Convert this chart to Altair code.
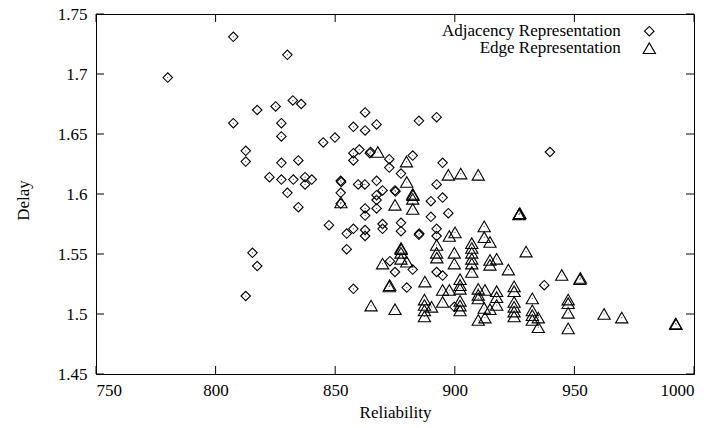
import altair as alt
import pandas as pd

# ---- data ----
adj_rel = [780.0, 807.4, 830.0, 817.4, 825.1, 832.3, 835.8, 807.4, 827.5, 827.5,
           812.6, 812.6, 827.5, 834.6, 822.5, 827.5, 832.5, 830.0, 834.6, 837.4,
           840.2, 837.4, 862.5, 857.6, 862.5, 867.3, 845.0, 849.9, 857.6, 860.1,
           857.6, 864.5, 864.8, 872.6, 872.6, 885.0, 892.4, 882.4, 894.9, 877.5,
           892.4, 852.3, 852.5, 852.3, 852.3, 859.6, 862.4, 867.3, 869.8, 867.3,
           867.3, 867.3, 875.0, 875.2, 862.5, 862.5, 890.0, 894.9, 890.0, 897.3,
           847.4, 854.8, 857.6, 862.5, 862.5, 869.8, 869.8, 877.5, 877.5, 885.1,
           885.0, 892.4, 892.4, 854.8, 815.4, 817.4, 812.6, 872.9, 875.0, 882.4,
           892.4, 894.9, 857.6, 879.9, 899.8, 937.4, 939.8]
adj_delay = [1.697, 1.731, 1.716, 1.670, 1.673, 1.678, 1.675, 1.659, 1.659, 1.648,
             1.636, 1.627, 1.626, 1.628, 1.614, 1.612, 1.612, 1.601, 1.589, 1.614,
             1.612, 1.608, 1.668, 1.656, 1.653, 1.658, 1.643, 1.647, 1.634, 1.637,
             1.628, 1.634, 1.635, 1.629, 1.622, 1.661, 1.664, 1.632, 1.626, 1.617,
             1.608, 1.611, 1.610, 1.601, 1.592, 1.608, 1.608, 1.611, 1.603, 1.599,
             1.595, 1.588, 1.603, 1.602, 1.588, 1.582, 1.594, 1.597, 1.581, 1.584,
             1.574, 1.567, 1.571, 1.570, 1.565, 1.575, 1.571, 1.576, 1.569, 1.567,
             1.566, 1.571, 1.565, 1.554, 1.551, 1.540, 1.515, 1.544, 1.535, 1.537,
             1.535, 1.532, 1.521, 1.522, 1.506, 1.524, 1.635]

edge_rel = [867.8, 879.8, 897.3, 902.5, 909.8, 879.9, 852.4, 882.4, 882.5, 882.4,
            875.0, 882.4, 926.8, 927.2, 927.0, 877.5, 877.6, 877.5, 877.5, 892.4,
            892.4, 892.5, 897.7, 900.1, 912.3, 912.3, 914.7, 899.8, 899.8, 907.1,
            907.1, 907.1, 907.1, 907.1, 907.1, 914.7, 917.5, 914.7, 922.4, 929.8,
            869.8, 887.5, 872.6, 872.8, 894.9, 897.7, 902.2, 902.2, 902.2, 909.8,
            909.8, 909.8, 912.6, 917.5, 917.5, 924.8, 924.8, 924.8, 924.8, 924.8,
            924.8, 865.0, 875.0, 887.3, 887.3, 887.3, 887.3, 890.3, 894.9, 902.2,
            902.2, 902.2, 909.8, 912.6, 912.3, 914.7, 917.5, 944.7, 952.3, 952.5,
            932.4, 932.4, 932.4, 932.4, 934.9, 934.9, 947.4, 947.4, 947.4, 947.4,
            962.4, 969.8, 992.3, 992.5, 879.9]
edge_delay = [1.635, 1.627, 1.616, 1.617, 1.616, 1.610, 1.593, 1.600, 1.599, 1.596,
              1.591, 1.5875, 1.583, 1.584, 1.5835, 1.555, 1.554, 1.551, 1.546, 1.5575,
              1.551, 1.547, 1.565, 1.568, 1.573, 1.564, 1.560, 1.551, 1.542, 1.559,
              1.555, 1.551, 1.546, 1.542, 1.535, 1.545, 1.546, 1.541, 1.537, 1.552,
              1.542, 1.527, 1.523, 1.524, 1.520, 1.520, 1.529, 1.524, 1.521, 1.521,
              1.516, 1.513, 1.520, 1.519, 1.514, 1.523, 1.519, 1.510, 1.506, 1.502,
              1.498, 1.507, 1.504, 1.512, 1.5075, 1.503, 1.498, 1.506, 1.510, 1.507,
              1.511, 1.503, 1.495, 1.497, 1.505, 1.504, 1.5075, 1.5325, 1.529, 1.530,
              1.513, 1.503, 1.499, 1.495, 1.497, 1.489, 1.512, 1.509, 1.501, 1.488,
              1.500, 1.497, 1.492, 1.4915, 1.5436]

series_names = ["Adjacency Representation", "Edge Representation"]
x_ticks = [750, 800, 850, 900, 950, 1000]
y_ticks = [1.45, 1.5, 1.55, 1.6, 1.65, 1.7, 1.75]

# ---- layout ----
W, H = 598, 360
TICK = 8
FONT = "Times New Roman"
FS = 17

df = pd.concat([
    pd.DataFrame({"Reliability": adj_rel, "Delay": adj_delay, "series": series_names[0]}),
    pd.DataFrame({"Reliability": edge_rel, "Delay": edge_delay, "series": series_names[1]}),
], ignore_index=True)
xt = pd.DataFrame({"Reliability": x_ticks})
yt = pd.DataFrame({"Delay": y_ticks})

xs = alt.Scale(domain=[750, 1000], nice=False, zero=False)
ys = alt.Scale(domain=[1.45, 1.75], nice=False, zero=False)

x_axis = alt.Axis(values=x_ticks, format="d", title="Reliability", labelPadding=8, titlePadding=6,
                  grid=False, domain=False, ticks=False,
                  labelFont=FONT, labelFontSize=FS, titleFont=FONT, titleFontSize=FS)
y_axis = alt.Axis(values=y_ticks, format="~g", title="Delay", labelPadding=9,
                  titleX=-73, titleY=186, titleBaseline="middle",
                  grid=False, domain=False, ticks=False,
                  labelFont=FONT, labelFontSize=FS, titleFont=FONT, titleFontSize=FS)

leg = alt.Legend(
    title=None, orient="none", legendX=544.8, legendY=8.7, padding=0,
    labelAlign="right", labelOffset={"expr": "-37"}, labelFont=FONT, labelFontSize=FS,
    labelColor="black", labelLimit=400, rowPadding={"expr": "-5"},
    symbolStrokeColor="black", symbolFillColor="transparent", symbolStrokeWidth=1.1,
)

points = alt.Chart(df).mark_point(filled=False, stroke="black", strokeWidth=1.1, opacity=1).encode(
    x=alt.X("Reliability:Q", scale=xs, axis=x_axis),
    y=alt.Y("Delay:Q", scale=ys, axis=y_axis),
    shape=alt.Shape("series:N", scale=alt.Scale(domain=series_names, range=["diamond", "triangle-up"]),
                    legend=leg),
    size=alt.Size("series:N", scale=alt.Scale(domain=series_names, range=[90, 150]), legend=leg),
)

dots = alt.Chart(df).mark_circle(size=1.5, color="#555555", opacity=1).encode(
    x=alt.X("Reliability:Q", scale=xs, axis=x_axis),
    y=alt.Y("Delay:Q", scale=ys, axis=y_axis),
)

tick_bottom = alt.Chart(xt).mark_rule(color="black", strokeWidth=1).encode(
    x=alt.X("Reliability:Q", scale=xs, axis=x_axis), y=alt.value(H), y2=alt.value(H - TICK))
tick_top = alt.Chart(xt).mark_rule(color="black", strokeWidth=1).encode(
    x=alt.X("Reliability:Q", scale=xs, axis=x_axis), y=alt.value(0), y2=alt.value(TICK))
tick_left = alt.Chart(yt).mark_rule(color="black", strokeWidth=1).encode(
    y=alt.Y("Delay:Q", scale=ys, axis=y_axis), x=alt.value(0), x2=alt.value(TICK))
tick_right = alt.Chart(yt).mark_rule(color="black", strokeWidth=1).encode(
    y=alt.Y("Delay:Q", scale=ys, axis=y_axis), x=alt.value(W - TICK), x2=alt.value(W))

chart = alt.layer(points, dots, tick_bottom, tick_top, tick_left, tick_right).properties(
    width=W, height=H,
    autosize=alt.AutoSizeParams(type="none"),
    padding={"left": 96, "top": 14, "right": 25, "bottom": 54},
    background="white",
).configure_view(
    stroke="black", strokeWidth=1
).configure_axis(
    labelColor="black", titleColor="black", titleFontWeight="normal",
).configure_legend(
    labelFont=FONT,
)

chart.save("out.html", embed_options={"renderer": "svg", "actions": False})
